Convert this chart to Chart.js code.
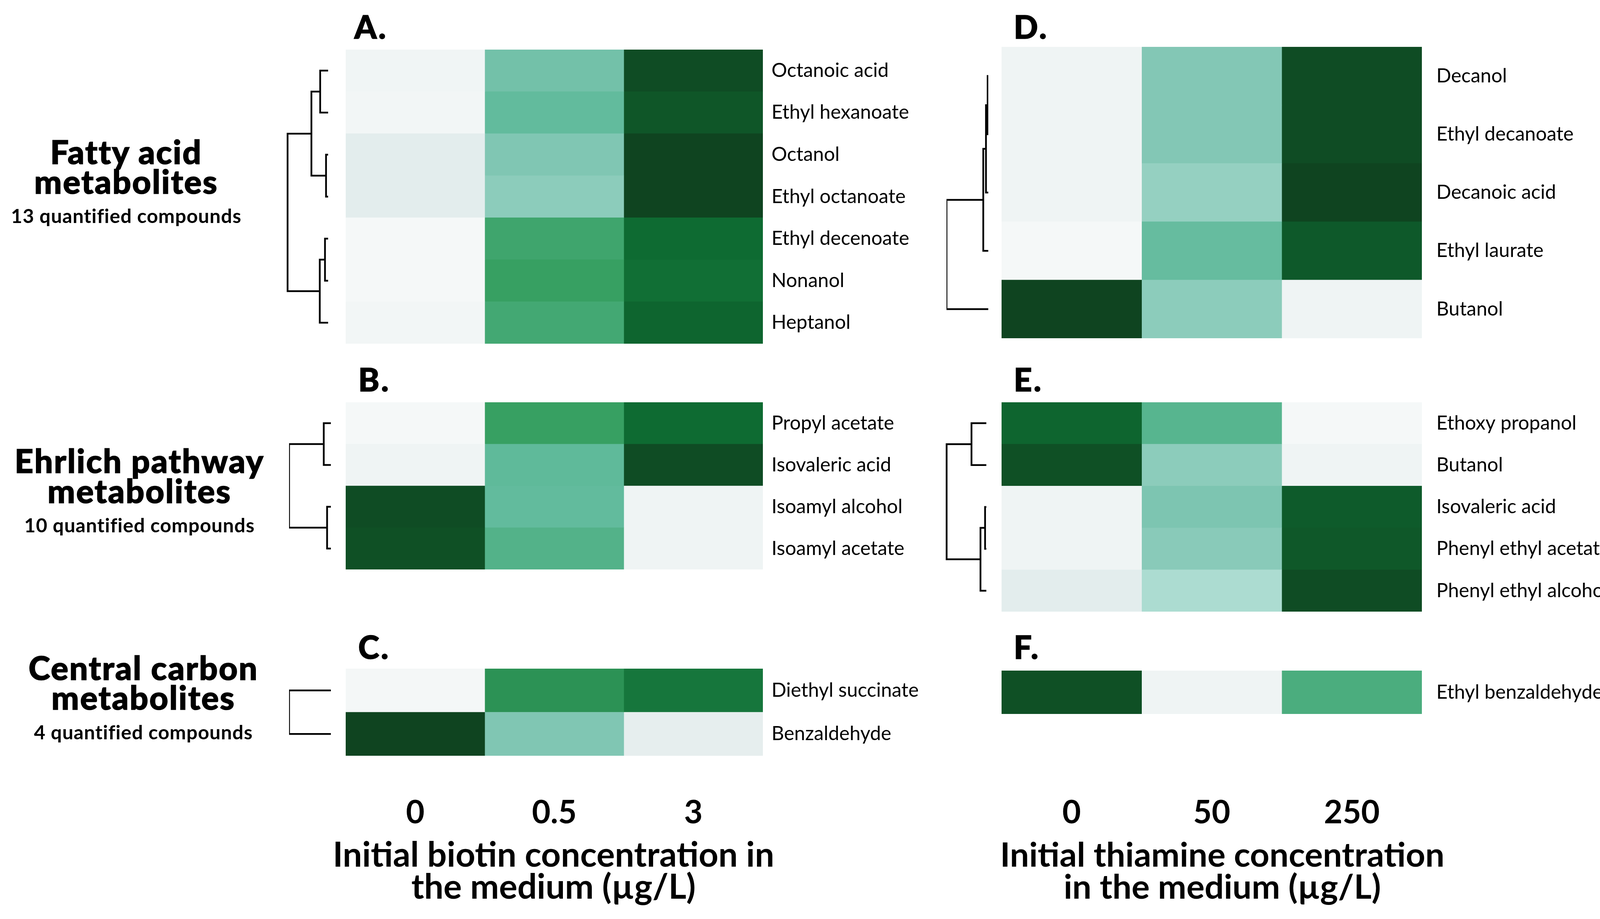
<!DOCTYPE html>
<html>
<head>
<meta charset="utf-8">
<script src="https://cdn.jsdelivr.net/npm/chart.js@4.4.1/dist/chart.umd.min.js"></script>
<style>
  html, body { margin: 0; padding: 0; background: #fff; }
  #page { position: relative; width: 4174px; height: 2353px; overflow: hidden; font-family: Lato, 'Open Sans', sans-serif; }
  #page canvas { position: absolute; }
  .txt { position: absolute; white-space: nowrap; color: #000; line-height: 1.2; }
  .heavy { -webkit-text-stroke: 1.6px #000; }
</style>
</head>
<body>
<div id="page"></div>
<script>
// columns
const biotinLevels = ['0', '0.5', '3'];
const thiamineLevels = ['0', '50', '250'];
const biotinTitle = ['Initial biotin concentration in', 'the medium (µg/L)'];
const thiamineTitle = ['Initial thiamine concentration', 'in the medium (µg/L)'];

// A. fatty acid metabolites vs biotin (relative level 0..1)
const fattyBiotinRows = ['Octanoic acid', 'Ethyl hexanoate', 'Octanol', 'Ethyl octanoate', 'Ethyl decenoate', 'Nonanol', 'Heptanol'];
const fattyBiotin = [
  [0.04, 0.49, 0.96],
  [0.03, 0.54, 0.91],
  [0.11, 0.45, 1.00],
  [0.11, 0.41, 1.00],
  [0.01, 0.63, 0.80],
  [0.01, 0.65, 0.79],
  [0.03, 0.62, 0.83]
];
// linkage: [a, b, distance], merged clusters numbered from n upward
const fattyBiotinLinks = [[0, 1, 0.19], [2, 3, 0.05], [7, 8, 0.40], [4, 5, 0.075], [10, 6, 0.20], [9, 11, 0.97]];

// B. Ehrlich pathway vs biotin
const ehrlichBiotinRows = ['Propyl acetate', 'Isovaleric acid', 'Isoamyl alcohol', 'Isoamyl acetate'];
const ehrlichBiotin = [
  [0.01, 0.65, 0.80],
  [0.05, 0.55, 0.96],
  [0.96, 0.54, 0.05],
  [0.94, 0.58, 0.05]
];
const ehrlichBiotinLinks = [[0, 1, 0.17], [2, 3, 0.09], [4, 5, 1.0]];

// C. central carbon vs biotin
const centralBiotinRows = ['Diethyl succinate', 'Benzaldehyde'];
const centralBiotin = [
  [0.02, 0.69, 0.77],
  [1.00, 0.45, 0.10]
];
const centralBiotinLinks = [[0, 1, 1.0]];

// D. fatty acid metabolites vs thiamine
const fattyThiamineRows = ['Decanol', 'Ethyl decanoate', 'Decanoic acid', 'Ethyl laurate', 'Butanol'];
const fattyThiamine = [
  [0.05, 0.44, 0.96],
  [0.05, 0.44, 0.96],
  [0.05, 0.38, 1.00],
  [0.01, 0.53, 0.89],
  [1.00, 0.41, 0.05]
];
const fattyThiamineLinks = [[0, 1, 0.015], [5, 2, 0.055], [6, 3, 0.12], [7, 4, 1.0]];

// E. Ehrlich pathway vs thiamine
const ehrlichThiamineRows = ['Ethoxy propanol', 'Butanol', 'Isovaleric acid', 'Phenyl ethyl acetate', 'Phenyl ethyl alcohol'];
const ehrlichThiamine = [
  [0.83, 0.57, 0.01],
  [0.94, 0.41, 0.05],
  [0.05, 0.46, 0.88],
  [0.05, 0.42, 0.90],
  [0.11, 0.30, 0.96]
];
const ehrlichThiamineLinks = [[0, 1, 0.355], [2, 3, 0.03], [6, 4, 0.14], [5, 7, 0.95]];

// F. central carbon vs thiamine
const centralThiamineRows = ['Ethyl benzaldehyde'];
const centralThiamine = [
  [0.94, 0.05, 0.60]
];

// colour scale (light grey-green -> dark green)
const colourStops = [
  [0.00, '#f7f9f9'], [0.10, '#e6eeee'], [0.30, '#acdcd1'], [0.45, '#80c6b3'],
  [0.55, '#5fba9a'], [0.65, '#37a062'], [0.80, '#0e6b32'], [1.00, '#0f4420']
];
function hexRgb(h) { return [1, 3, 5].map(i => parseInt(h.substr(i, 2), 16)); }
function colourFor(v) {
  for (let i = 1; i < colourStops.length; i++) {
    const [v1, c1] = colourStops[i];
    if (v <= v1) {
      const [v0, c0] = colourStops[i - 1];
      const t = (v - v0) / (v1 - v0);
      const a = hexRgb(c0), b = hexRgb(c1);
      return 'rgb(' + a.map((x, k) => Math.round(x + (b[k] - x) * t)).join(',') + ')';
    }
  }
  return colourStops[colourStops.length - 1][1];
}

const page = document.getElementById('page');
Chart.defaults.font.family = 'Lato, "Open Sans", sans-serif';
Chart.defaults.color = '#000';

function makeCanvas(left, top, w, h) {
  const c = document.createElement('canvas');
  c.width = w; c.height = h;
  c.style.left = left + 'px'; c.style.top = top + 'px';
  c.style.width = w + 'px'; c.style.height = h + 'px';
  page.appendChild(c);
  return c;
}

// heatmap: floating horizontal bars, one dataset per column
function heatmap(p) {
  const axisH = p.axis ? 2345 - p.bottom : 0;
  const canvas = makeCanvas(p.left, p.top, (p.right - p.left) + p.labelW, (p.bottom - p.top) + axisH);
  new Chart(canvas, {
    type: 'bar',
    data: {
      labels: p.rows,
      datasets: p.cols.map((c, j) => ({
        label: c,
        data: p.values.map(() => [j, j + 1]),
        backgroundColor: p.values.map(r => colourFor(r[j])),
        borderWidth: 0,
        grouped: false,
        barPercentage: 1,
        categoryPercentage: 1
      }))
    },
    options: {
      indexAxis: 'y',
      responsive: false,
      animation: false,
      layout: { padding: 0 },
      plugins: { legend: { display: false }, tooltip: { enabled: false } },
      scales: {
        x: {
          type: 'linear', min: 0, max: 3,
          display: !!p.axis,
          grid: { display: false, drawTicks: false },
          border: { display: false },
          afterBuildTicks: s => { s.ticks = p.cols.map((c, j) => ({ value: j + 0.5 })); },
          ticks: {
            callback: (v, i) => p.cols[i],
            font: { size: 82, weight: 'bold', lineHeight: 1 },
            padding: 2082 - 41 - p.bottom,
            maxRotation: 0, autoSkip: false
          },
          afterFit: s => { s.height = axisH; s.paddingLeft = 0; s.paddingRight = 0; }
        },
        y: {
          position: 'right',
          grid: { display: false, drawTicks: false },
          border: { display: false },
          ticks: { font: { size: 50 }, padding: p.labelPad, autoSkip: false },
          afterFit: s => { s.width = p.labelW; s.paddingTop = 0; s.paddingBottom = 0; }
        }
      }
    }
  });
}

// dendrogram from a linkage list, leaves in row order
function dendrogram(p) {
  const n = p.n, pos = [], hgt = [];
  for (let i = 0; i < n; i++) { pos[i] = i; hgt[i] = 0; }
  const datasets = p.links.map(([a, b, h], k) => {
    pos[n + k] = (pos[a] + pos[b]) / 2;
    hgt[n + k] = h;
    return {
      data: [{ x: hgt[a], y: pos[a] }, { x: h, y: pos[a] }, { x: h, y: pos[b] }, { x: hgt[b], y: pos[b] }],
      borderColor: '#000', borderWidth: 4.5, pointRadius: 0, showLine: true, tension: 0,
      borderJoinStyle: 'miter'
    };
  });
  const unit = 107, pad = 4;
  const canvas = makeCanvas(p.leafEnd - unit - pad, p.top, unit + pad, p.bottom - p.top);
  new Chart(canvas, {
    type: 'scatter',
    data: { datasets },
    options: {
      responsive: false, animation: false,
      layout: { padding: { left: pad, right: 0, top: 0, bottom: 0 } },
      plugins: { legend: { display: false }, tooltip: { enabled: false } },
      scales: {
        x: { type: 'linear', min: 0, max: 1, reverse: true, display: false },
        y: { type: 'linear', min: -0.5, max: n - 0.5, reverse: true, display: false }
      }
    }
  });
}

// text placed by baseline
function text(str, x, baseline, size, weight, centre, spacing, heavy) {
  const d = document.createElement('div');
  d.className = 'txt' + (heavy ? ' heavy' : '');
  d.textContent = str;
  d.style.fontSize = size + 'px';
  d.style.fontWeight = weight;
  if (spacing) d.style.letterSpacing = spacing + 'px';
  d.style.top = (baseline - 0.987 * size) + 'px';
  d.style.left = x + 'px';
  if (centre) d.style.transform = 'translateX(-50%)';
  page.appendChild(d);
}

const L = { left: 885, right: 1953, labelW: 460, labelPad: 22 };
const R = { left: 2564, right: 3640, labelW: 530, labelPad: 37 };

heatmap({ ...L, top: 127, bottom: 880, rows: fattyBiotinRows, cols: biotinLevels, values: fattyBiotin });
heatmap({ ...L, top: 1030, bottom: 1458, rows: ehrlichBiotinRows, cols: biotinLevels, values: ehrlichBiotin });
heatmap({ ...L, top: 1712, bottom: 1935, rows: centralBiotinRows, cols: biotinLevels, values: centralBiotin, axis: true });
heatmap({ ...R, top: 120, bottom: 866, rows: fattyThiamineRows, cols: thiamineLevels, values: fattyThiamine });
heatmap({ ...R, top: 1030, bottom: 1566, rows: ehrlichThiamineRows, cols: thiamineLevels, values: ehrlichThiamine });
heatmap({ ...R, top: 1717, bottom: 1828, rows: centralThiamineRows, cols: thiamineLevels, values: centralThiamine, axis: true });

dendrogram({ n: 7, links: fattyBiotinLinks, top: 127, bottom: 880, leafEnd: 840 });
dendrogram({ n: 4, links: ehrlichBiotinLinks, top: 1030, bottom: 1458, leafEnd: 847 });
dendrogram({ n: 2, links: centralBiotinLinks, top: 1712, bottom: 1935, leafEnd: 847 });
dendrogram({ n: 5, links: fattyThiamineLinks, top: 120, bottom: 866, leafEnd: 2530 });
dendrogram({ n: 5, links: ehrlichThiamineLinks, top: 1030, bottom: 1566, leafEnd: 2525 });

// axis titles
text(biotinTitle[0], 1417, 2220, 88, 700, true);
text(biotinTitle[1], 1417, 2302, 88, 700, true);
text(thiamineTitle[0], 3129, 2220, 87, 700, true);
text(thiamineTitle[1], 3129, 2302, 87, 700, true);

// panel letters
const letterSize = 82;
text('A.', 907, 99, letterSize, 900, false, 4, true);
text('B.', 917, 1002, letterSize, 900, false, 4, true);
text('C.', 917, 1687, letterSize, 900, false, 4, true);
text('D.', 2595, 99, letterSize, 900, false, 4, true);
text('E.', 2595, 1002, letterSize, 900, false, 4, true);
text('F.', 2595, 1687, letterSize, 900, false, 4, true);

// group labels
text('Fatty acid', 323, 421, 84, 900, true, 2.5, true);
text('metabolites', 323, 497, 84, 900, true, 2.5, true);
text('13 quantified compounds', 323, 571, 50, 700, true, 1);
text('Ehrlich pathway', 357, 1212, 84, 900, true, 2.5, true);
text('metabolites', 357, 1289, 84, 900, true, 2.5, true);
text('10 quantified compounds', 357, 1363, 50, 700, true, 1);
text('Central carbon', 367, 1742, 84, 900, true, 2.5, true);
text('metabolites', 367, 1818, 84, 900, true, 2.5, true);
text('4 quantified compounds', 367, 1893, 50, 700, true, 1);
</script>
</body>
</html>
